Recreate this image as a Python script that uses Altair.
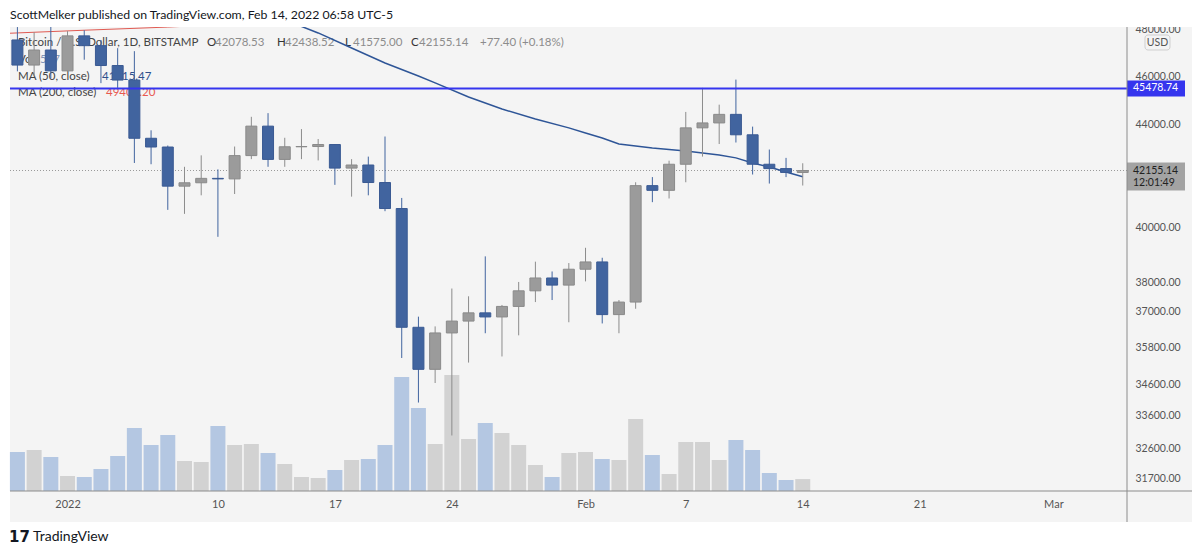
import altair as alt
import pandas as pd

FONT = "Lato"

# ---------------- data ----------------
dates = [
    "2021-12-29", "2021-12-30", "2021-12-31",
    "2022-01-01", "2022-01-02", "2022-01-03", "2022-01-04", "2022-01-05", "2022-01-06", "2022-01-07",
    "2022-01-08", "2022-01-09", "2022-01-10", "2022-01-11", "2022-01-12", "2022-01-13", "2022-01-14",
    "2022-01-15", "2022-01-16", "2022-01-17", "2022-01-18", "2022-01-19", "2022-01-20", "2022-01-21",
    "2022-01-22", "2022-01-23", "2022-01-24", "2022-01-25", "2022-01-26", "2022-01-27", "2022-01-28",
    "2022-01-29", "2022-01-30", "2022-01-31",
    "2022-02-01", "2022-02-02", "2022-02-03", "2022-02-04", "2022-02-05", "2022-02-06", "2022-02-07",
    "2022-02-08", "2022-02-09", "2022-02-10", "2022-02-11", "2022-02-12", "2022-02-13", "2022-02-14",
]
opens = [
    47560, 46470, 47120,
    46220, 47740, 47310, 46450, 45830, 43430, 43080,
    41550, 41680, 41850, 41830, 42740, 43920, 42590,
    43090, 43100, 43180, 42250, 42370, 41690, 40700,
    36470, 35080, 36280, 36680, 36960, 36820, 37180,
    37720, 38170, 37920,
    38480, 38740, 36900, 37330, 41570, 41390, 42400,
    43850, 44050, 44400, 43570, 42400, 42230, 42078.53,
]
highs = [
    48130, 47900, 48300,
    47950, 47990, 47560, 47200, 47070, 43750, 43140,
    42300, 42750, 42200, 43100, 44300, 44450, 43450,
    43800, 43400, 43200, 42600, 42700, 43500, 41100,
    36830, 36500, 37800, 37530, 38940, 37230, 38030,
    38750, 38400, 38700,
    39250, 38890, 37400, 41700, 41900, 42540, 44500,
    45500, 44800, 45850, 43900, 42980, 42650, 42438.52,
]
lows = [
    46200, 46000, 45900,
    46200, 46700, 45700, 45500, 42450, 42400, 40650,
    40500, 41200, 39650, 41250, 42600, 42300, 42300,
    42600, 42550, 41600, 41150, 41200, 40600, 35450,
    34020, 34640, 33000, 35300, 36270, 35500, 36200,
    37330, 37400, 36640,
    38050, 36600, 36270, 37100, 40940, 41080, 41700,
    42700, 43200, 43260, 42000, 41650, 41900, 41575.00,
]
closes = [
    46470, 47120, 46220,
    47740, 47310, 46450, 45830, 43430, 43080, 41550,
    41680, 41850, 41830, 42740, 43920, 42590, 43090,
    43100, 43180, 42250, 42370, 41690, 40700, 36470,
    35080, 36280, 36680, 36960, 36820, 37180, 37720,
    38170, 37920, 38480,
    38740, 36900, 37330, 41570, 41390, 42400, 43850,
    44050, 44400, 43570, 42400, 42230, 42080, 42155.14,
]
volumes = [
    1950, 2050, 1700,
    750, 700, 1100, 1750, 3150, 2300, 2800,
    1500, 1450, 3250, 2300, 2350, 1900, 1350,
    700, 650, 1050, 1550, 1600, 2300, 5700,
    4150, 2350, 5800, 2600, 3400, 2900, 2300,
    1300, 700, 1900,
    1950, 1600, 1550, 3600, 1800, 850, 2450,
    2450, 1550, 2550, 2050, 900, 550, 597,
]

ma50_dates = [
    "2022-01-10", "2022-01-12", "2022-01-14", "2022-01-16", "2022-01-18", "2022-01-20",
    "2022-01-22", "2022-01-23", "2022-01-25", "2022-01-27", "2022-01-29", "2022-01-31",
    "2022-02-01", "2022-02-02", "2022-02-03", "2022-02-05", "2022-02-07", "2022-02-09",
    "2022-02-10", "2022-02-11", "2022-02-12", "2022-02-13", "2022-02-14",
]
ma50_values = [
    49900, 49150, 48450, 47870, 47210, 46560,
    46000, 45710, 45120, 44620, 44210, 43850,
    43640, 43440, 43200, 43040, 42920, 42760,
    42650, 42450, 42290, 42100, 41915.47,
]
ma200_dates = ["2021-12-28", "2021-12-29", "2022-01-02", "2022-01-07", "2022-01-14",
               "2022-01-24", "2022-02-03", "2022-02-14"]
ma200_values = [47840, 47870, 47990, 48130, 48370, 48700, 49050, 49402.20]

price_ticks = [48000, 46000, 44000, 40000, 38000, 37000, 35800, 34600, 33600, 32600, 31700]
date_ticks = ["2022-01-01", "2022-01-10", "2022-01-17", "2022-01-24", "2022-02-01",
              "2022-02-07", "2022-02-14", "2022-02-21", "2022-03-01"]

resistance_price = 45478.74
last_price = 42155.14
countdown = "12:01:49"

header = "ScottMelker published on TradingView.com, Feb 14, 2022 06:58 UTC-5"
symbol = "Bitcoin / U.S. Dollar, 1D, BITSTAMP"
ohlc_tokens = [("O", "42078.53"), ("H", "42438.52"), ("L", "41575.00"), ("C", "42155.14")]
change_text = "+77.40 (+0.18%)"
vol_text = "597"
ma50_label, ma50_text = "MA (50, close)", "41915.47"
ma200_label, ma200_text = "MA (200, close)", "49402.20"

# ---------------- tables ----------------
candles = pd.DataFrame({"date": dates, "open": opens, "high": highs, "low": lows,
                        "close": closes, "volume": volumes})
ma50 = pd.DataFrame({"date": ma50_dates, "ma": ma50_values})
ma200 = pd.DataFrame({"date": ma200_dates, "ma": ma200_values})
res_df = pd.DataFrame({"price": [resistance_price], "label": [f"{resistance_price:.2f}"]})
last_df = pd.DataFrame({"price": [last_price], "label": [f"{last_price:.2f}"], "timer": [countdown]})
one = pd.DataFrame({"k": [0]})

W, H = 1117, 464
PANEL_R = 1182
BG = "#f4f4f4"
BLUE = "#41649f"
GREY = "#9b9b9b"
LEG = 11.5


def dt(s, hours=0, minutes=0):
    y, m, d = map(int, s.split("-"))
    return alt.DateTime(year=y, month=m, date=d, hours=hours, minutes=minutes, utc=True)


xscale = alt.Scale(type="utc", domain=[dt("2021-12-28", 20, 33), dt("2022-03-05", 2, 33)])
xaxis = alt.Axis(
    values=[dt(s) for s in date_ticks],
    labelExpr="utcdate(datum.value) == 1 ? (utcmonth(datum.value) == 0 ? utcFormat(datum.value, '%Y') : utcFormat(datum.value, '%b')) : utcFormat(datum.value, '%-d')",
    title=None, ticks=False, domain=False, grid=False, labelPadding=7,
    labelFontSize=11, labelColor="#555555", labelFont=FONT,
    labelFlush=False, labelOverlap=False,
)
pscale = alt.Scale(type="log", domain=[31350, 48133], nice=False, zero=False)
yaxis = alt.Axis(
    values=price_ticks, format=".2f", orient="right", title=None, ticks=False,
    domain=False, grid=False, labelAlign="left", labelBaseline="middle", labelPadding=8,
    labelFontSize=10.5, labelColor="#555555", labelFont=FONT,
    labelOverlap=False, labelFlush=False,
)
X = alt.X("date:T", scale=xscale, axis=xaxis)

up = alt.datum.close >= alt.datum.open


def txt(s, x, y, color="#444444", size=LEG, align="left", weight="normal", font=FONT):
    return alt.Chart(pd.DataFrame({"t": [s]})).mark_text(
        align=align, baseline="middle", fontSize=size, color=color, font=font, fontWeight=weight
    ).encode(text="t:N", x=alt.value(x), y=alt.value(y))


def rect(x, x2, y, y2, color):
    return alt.Chart(one).mark_rect(color=color).encode(
        x=alt.value(x), x2=alt.value(x2), y=alt.value(y), y2=alt.value(y2))


# white page areas around the panes
white_top = rect(-2, PANEL_R, -19, 0, "white")
white_bottom = rect(-2, PANEL_R, 495, 519, "white")
white_left = rect(-2, 0, 0, 495, "white")

# volume
vol = alt.Chart(candles).mark_bar(size=15).encode(
    x=X,
    y=alt.Y("volume:Q", scale=alt.Scale(domain=[0, 23200]), axis=None),
    color=alt.when(up).then(alt.value("#d2d2d2")).otherwise(alt.value("#b4c7e2")),
)

# legend texts (beneath candles)
legend_layers = [txt(symbol, 8, 16)]
ox = [197, 267, 335, 401]
for (letter, val), x0 in zip(ohlc_tokens, ox):
    legend_layers.append(txt(letter, x0, 16, color="#333333"))
    legend_layers.append(txt(val, x0 + 8, 16, color="#8c8c8c"))
legend_layers.append(txt(change_text, 470, 16, color="#8c8c8c"))
legend_layers.append(txt("Vol", 8, 33))
legend_layers.append(txt(vol_text, 30, 33, color="#8496b8"))
legend_layers.append(txt(ma50_label, 8, 50))
legend_layers.append(txt(ma50_text, 92, 50, color="#2d4f8c"))
legend_layers.append(txt(ma200_label, 8, 66))
legend_layers.append(txt(ma200_text, 96, 66, color="#e8584f"))

# price layers
Yp = lambda f: alt.Y(f, scale=pscale, axis=yaxis)

last_line = alt.Chart(last_df).mark_rule(color="#9a9a9a", strokeDash=[1, 2], strokeWidth=1).encode(
    y=Yp("price:Q"))
ma200_line = alt.Chart(ma200).mark_line(color="#e05a52", strokeWidth=1, clip=True).encode(
    x=X, y=Yp("ma:Q"))
ma50_line = alt.Chart(ma50).mark_line(color="#2e5597", strokeWidth=1.5, clip=True).encode(
    x=X, y=Yp("ma:Q"))
wick = alt.Chart(candles).mark_rule(strokeWidth=1, clip=True).encode(
    x=X, y=Yp("low:Q"), y2="high:Q",
    color=alt.when(up).then(alt.value("#8c8c8c")).otherwise(alt.value(BLUE)),
)
body = alt.Chart(candles).mark_bar(size=11, strokeWidth=1, clip=True).encode(
    x=X, y=Yp("open:Q"), y2="close:Q",
    color=alt.when(up).then(alt.value(GREY)).otherwise(alt.value(BLUE)),
    stroke=alt.when(up).then(alt.value("#8a8a8a")).otherwise(alt.value("#3a5a93")),
)
res_line = alt.Chart(res_df).mark_rule(color="#3535ee", strokeWidth=2).encode(y=Yp("price:Q"))
res_box = alt.Chart(res_df).mark_rect(color="#3535ee", yOffset=-8, y2Offset=8).encode(
    x=alt.value(W), x2=alt.value(W + 58), y=Yp("price:Q"), y2="price:Q")
res_lbl = alt.Chart(res_df).mark_text(align="left", baseline="middle", fontSize=10.5,
                                      color="white", font=FONT).encode(
    x=alt.value(W + 6), y=Yp("price:Q"), text="label:N")
last_box = alt.Chart(last_df).mark_rect(color="#a3a3a3", yOffset=-8, y2Offset=20).encode(
    x=alt.value(W), x2=alt.value(W + 58), y=Yp("price:Q"), y2="price:Q")
last_lbl = alt.Chart(last_df).mark_text(align="left", baseline="middle", fontSize=10.5,
                                        color="#222222", font=FONT).encode(
    x=alt.value(W + 6), y=Yp("price:Q"), text="label:N")
last_timer = alt.Chart(last_df).mark_text(align="left", baseline="middle", fontSize=10.5,
                                          color="#222222", font=FONT, dy=12).encode(
    x=alt.value(W + 6), y=Yp("price:Q"), text="timer:N")

price = alt.layer(last_line, ma200_line, ma50_line, wick, body, res_line,
                  res_box, res_lbl, last_box, last_lbl, last_timer)

# USD badge
usd_box = alt.Chart(one).mark_rect(fill=BG, stroke="#cfcfcf", strokeWidth=1, cornerRadius=3).encode(
    x=alt.value(1135), x2=alt.value(1160), y=alt.value(8), y2=alt.value(23))
usd_txt = txt("USD", 1147.5, 15.5, color="#555555", size=10.5, align="center")

# axis frame lines
vline = alt.Chart(one).mark_rule(color="#8c8c8c", strokeWidth=1).encode(
    x=alt.value(W), y=alt.value(0), y2=alt.value(495))
hline = alt.Chart(one).mark_rule(color="#8c8c8c", strokeWidth=1).encode(
    x=alt.value(0), x2=alt.value(PANEL_R), y=alt.value(H))

header_t = txt(header, 0, -12, color="#131722", size=12.3)
logo_mark = txt("17", -1, 510, color="#131722", size=15, weight="bold", font="DejaVu Sans")
logo_t = txt("TradingView", 23, 510, color="#131722", size=14)

chart = alt.layer(
    white_top, white_bottom, white_left, vol, *legend_layers, price,
    usd_box, usd_txt, vline, hline, header_t, logo_mark, logo_t,
).resolve_scale(y="independent").properties(
    width=W, height=H,
    padding={"left": 2, "top": 19, "right": 65, "bottom": 55},
    autosize=alt.AutoSizeParams(type="none"),
    background=BG,
).configure_view(stroke=None, fill=BG)

chart.save("out.html", embed_options={"renderer": "svg", "actions": False})
